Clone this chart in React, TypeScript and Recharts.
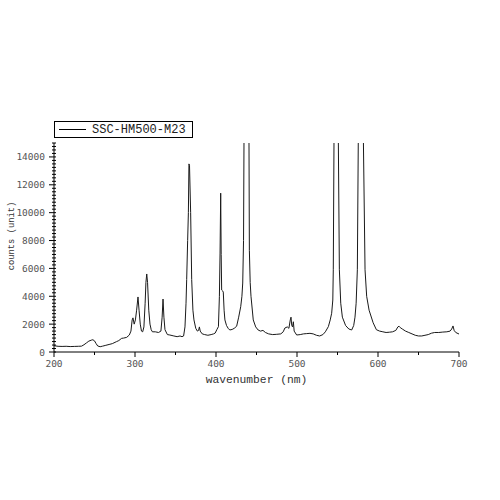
import React from 'react';
import { LineChart, Line, XAxis, YAxis } from 'recharts';

// wavelength (nm) and counts
const wavelengths = [
  200, 205, 210, 215, 220, 225, 230, 234, 237, 240, 243, 246, 248, 250, 252, 254, 257, 260, 264, 268,
  272, 277, 280, 283.5, 286, 289.7, 293, 295, 296.5, 297.5, 299, 300.5, 302, 303.7, 305, 306.5, 308, 309.5,
  311, 312.5, 313.5, 314.5, 315.5, 317, 318.5, 320, 321.5, 325, 329, 332, 333.5, 334.6, 335.7, 337, 340,
  343, 348, 352, 355.6, 358, 360, 361.7, 363, 363.8, 365, 365.9, 366.6, 367.3, 368.7, 370, 371.5, 372.8,
  375, 377, 378.5, 379.5, 380.5, 383, 386, 390, 394, 397, 399, 401, 403, 404.2, 405, 405.8, 406.4, 407,
  408, 409, 410, 411, 413, 415, 417, 420, 422.5, 425.5, 428, 430.5, 432, 433, 434, 434.6, 436, 439.5,
  440.7, 441.2, 442.2, 443.2, 446, 449, 452, 455, 458, 461, 465, 470, 475, 480, 483, 485, 488, 490,
  491.7, 492.6, 493.5, 494.5, 495.5, 496.5, 499.6, 504, 508, 512, 516, 520, 524, 528, 532, 535, 538.7,
  541, 542.8, 544.2, 544.8, 545.7, 547, 549.5, 551, 552.3, 554, 556, 560, 564, 567.5, 570, 571.6, 573,
  574.5, 575.7, 577, 580.5, 581.9, 584, 586, 589, 594, 598, 602, 606, 610, 614, 618, 622, 624.5, 626,
  627.5, 630, 634, 638, 642, 646, 650, 654, 658, 662, 666, 670, 675, 680, 685, 689, 691, 692.6, 694,
  696, 700,
];

const counts = [
  450, 410, 400, 410, 390, 400, 410, 420, 520, 650, 780, 850, 880, 800, 600, 430, 380, 420, 480, 540,
  600, 740, 820, 980, 1000, 1050, 1220, 1500, 2300, 2450, 2000, 2300, 3000, 3950, 3000, 2000, 1500, 1450,
  1800, 3500, 5000, 5600, 5000, 3000, 2000, 1600, 1450, 1450, 1400, 1500, 2500, 3800, 2500, 1600, 1250,
  1220, 1150, 1100, 1150, 1100, 1150, 1800, 3500, 5200, 8000, 10000, 13500, 13400, 10000, 5200, 3000, 2300,
  1700, 1500, 1550, 1800, 1500, 1300, 1250, 1200, 1250, 1300, 1360, 1600, 1820, 4000, 7100, 11400, 7000, 4450,
  4400, 4300, 3000, 2300, 1900, 1700, 1580, 1620, 1700, 1850, 2500, 3250, 4000, 4950, 8000, 15500, 30000, 30000,
  15500, 7300, 5000, 4000, 2300, 1800, 1580, 1500, 1550, 1400, 1300, 1250, 1270, 1300, 1450, 1720, 1800, 1700,
  2300, 2500, 1900, 1800, 2170, 1500, 1220, 1250, 1300, 1320, 1340, 1300, 1200, 1150, 1250, 1450, 1820,
  2300, 2780, 3730, 5900, 15500, 30000, 30000, 15500, 5900, 3500, 2500, 1900, 1650, 1580, 1900, 2500, 3500,
  5900, 15500, 30000, 30000, 15500, 5900, 4000, 3000, 2100, 1600, 1500, 1450, 1400, 1420, 1450, 1550, 1800, 1850,
  1750, 1650, 1500, 1400, 1300, 1200, 1150, 1150, 1200, 1250, 1350, 1400, 1400, 1430, 1450, 1500, 1650, 1870, 1550,
  1400, 1290,
];

const xTicks = [200, 250, 300, 350, 400, 450, 500, 550, 600, 650, 700];
const yLabelTicks = [0, 2000, 4000, 6000, 8000, 10000, 12000, 14000];
const seriesName = 'SSC-HM500-M23';

const yTicks: number[] = [];
for (let v = 0; v <= 15000; v += 250) yTicks.push(v);

const data = wavelengths.map((wl, i) => ({ wl, counts: counts[i] }));

const tickFont = '"DejaVu Sans Mono", monospace';
const labelFont = '"Liberation Mono", monospace';

const XTick = (props: any) => {
  const { x, y, payload } = props;
  const major = payload.value % 100 === 0;
  return (
    <g>
      <line x1={x} x2={x} y1={y} y2={y + (major ? 5 : 3)} stroke="#000" strokeWidth={1} />
      {major && (
        <text x={x} y={y + 15} textAnchor="middle" fontSize={9.5} fontFamily={tickFont} fill="#555">
          {payload.value}
        </text>
      )}
    </g>
  );
};

const YTick = (props: any) => {
  const { x, y, payload } = props;
  const major = yLabelTicks.includes(payload.value);
  return (
    <g>
      <line x1={x - (major ? 5 : 2)} x2={x + 2} y1={y} y2={y} stroke="#000" strokeWidth={1} />
      {major && (
        <text x={x - 9} y={y + 3.5} textAnchor="end" fontSize={9.5} fontFamily={tickFont} fill="#555">
          {payload.value}
        </text>
      )}
    </g>
  );
};

const XLabel = ({ viewBox }: any) => (
  <text
    x={viewBox.x + viewBox.width / 2}
    y={viewBox.y + 31}
    textAnchor="middle"
    fontSize={11.3}
    fontFamily={labelFont}
    fill="#333"
  >
    wavenumber (nm)
  </text>
);

const YLabel = () => (
  <text
    x={12}
    y={236}
    transform="rotate(-90 12 236)"
    textAnchor="middle"
    dominantBaseline="central"
    fontSize={8.8}
    fontFamily={labelFont}
    fill="#333"
  >
    counts (unit)
  </text>
);

const LegendBox = () => (
  <div
    style={{
      position: 'absolute',
      left: 54,
      top: 121,
      width: 139,
      height: 17,
      border: '1px solid #000',
      boxSizing: 'border-box',
      display: 'flex',
      alignItems: 'center',
      background: '#fff',
    }}
  >
    <div style={{ width: 27, height: 0, borderTop: '1px solid #000', marginLeft: 4, marginRight: 6 }} />
    <span style={{ fontFamily: labelFont, fontSize: 12, color: '#222', lineHeight: '14px' }}>{seriesName}</span>
  </div>
);

export default function App() {
  return (
    <div style={{ position: 'absolute', left: 0, top: 0, width: 500, height: 500, background: '#fff' }}>
      <LineChart width={500} height={500} data={data} margin={{ top: 143, right: 41, bottom: 118, left: 0 }}>
        <XAxis
          dataKey="wl"
          type="number"
          domain={[200, 700]}
          ticks={xTicks}
          interval={0}
          height={30}
          tickSize={0}
          tickMargin={0}
          tickLine={false}
          tick={<XTick />}
          axisLine={{ stroke: '#000', strokeWidth: 1 }}
          label={<XLabel />}
        />
        <YAxis
          type="number"
          domain={[0, 15000]}
          allowDataOverflow
          ticks={yTicks}
          interval={0}
          width={54}
          tickSize={0}
          tickMargin={0}
          tickLine={false}
          tick={<YTick />}
          axisLine={{ stroke: '#000', strokeWidth: 1 }}
          label={<YLabel />}
        />
        <Line
          type="linear"
          dataKey="counts"
          name={seriesName}
          stroke="#1a1a1a"
          strokeWidth={1}
          dot={false}
          isAnimationActive={false}
        />
      </LineChart>
      <LegendBox />
    </div>
  );
}
